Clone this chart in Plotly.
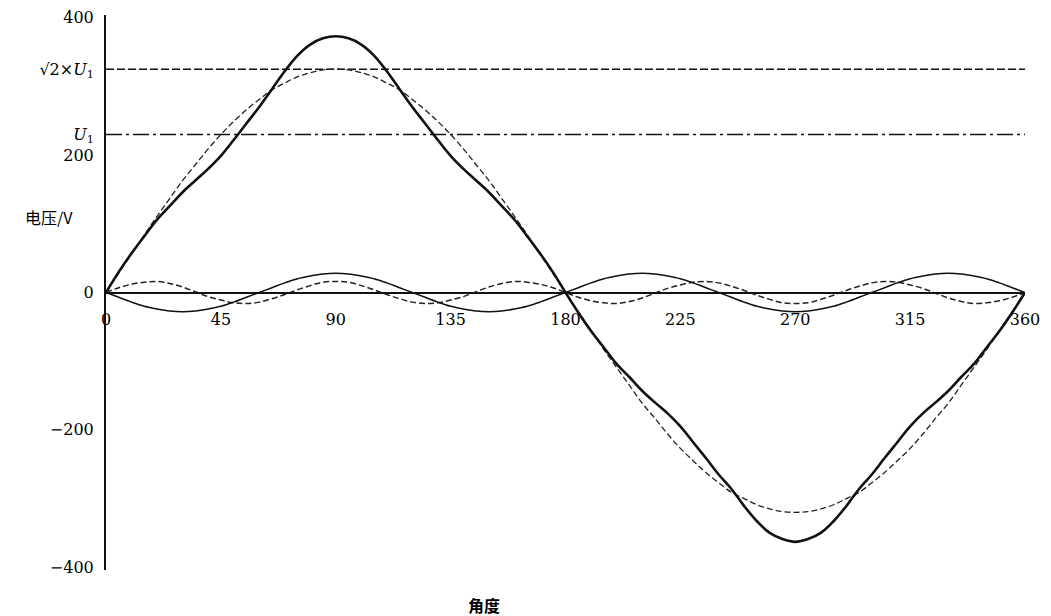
import plotly.graph_objects as go

# ---- data ----
angles = [0, 5, 10, 15, 20, 25, 30, 35, 40, 45, 50, 55, 60, 65, 70, 75, 80, 85, 90,
          95, 100, 105, 110, 115, 120, 125, 130, 135, 140, 145, 150, 155, 160, 165, 170, 175, 180,
          185, 190, 195, 200, 205, 210, 215, 220, 225, 230, 235, 240, 245, 250, 255, 260, 265, 270,
          275, 280, 285, 290, 295, 300, 305, 310, 315, 320, 325, 330, 335, 340, 345, 350, 355, 360]

# distorted total voltage (heavy solid)
total_v = [0, 30, 57, 82, 106, 126, 146, 163, 180, 199, 222, 246, 270, 296, 322, 345, 361, 370, 373,
           370, 361, 345, 322, 296, 270, 246, 222, 199, 180, 163, 146, 126, 106, 82, 57, 30, 0,
           -29, -56, -80, -104, -123, -143, -160, -176, -195, -218, -241, -265, -286, -311, -333, -350, -359, -363,
           -359, -350, -333, -311, -286, -265, -241, -218, -195, -176, -160, -143, -123, -104, -80, -56, -29, 0]

# fundamental (dashed)
fundamental_v = [0, 28, 56, 84, 111, 137, 163, 186, 209, 230, 249, 266, 281, 295, 305, 314, 320, 324, 325,
                 324, 320, 314, 305, 295, 281, 266, 249, 230, 209, 186, 163, 137, 111, 84, 56, 28, 0,
                 -28, -55, -83, -109, -135, -161, -183, -206, -227, -245, -262, -277, -291, -300, -309, -315, -319, -320,
                 -319, -315, -309, -300, -291, -277, -262, -245, -227, -206, -183, -161, -135, -109, -83, -55, -28, 0]

# third harmonic (thin solid)
third_v = [0, -7, -14, -20, -24, -27, -28, -27, -24, -20, -14, -7, 0, 7, 14, 20, 24, 27, 28,
           27, 24, 20, 14, 7, 0, -7, -14, -20, -24, -27, -28, -27, -24, -20, -14, -7, 0,
           7, 14, 20, 24, 27, 28, 27, 24, 20, 14, 7, 0, -7, -14, -20, -24, -27, -28,
           -27, -24, -20, -14, -7, 0, 7, 14, 20, 24, 27, 28, 27, 24, 20, 14, 7, 0]

# fifth harmonic (thin dashed)
fifth_v = [0, 7, 12, 15, 16, 13, 8, 1, -6, -11, -15, -16, -14, -9, -3, 4, 10, 15, 16,
           15, 10, 4, -3, -9, -14, -16, -15, -11, -6, 1, 8, 13, 16, 15, 12, 7, 0,
           -7, -12, -15, -16, -13, -8, -1, 6, 11, 15, 16, 14, 9, 3, -4, -10, -15, -16,
           -15, -10, -4, 3, 9, 14, 16, 15, 11, 6, -1, -8, -13, -16, -15, -12, -7, 0]

ref_x = [0, 361]
peak_level = 325    # sqrt(2) x U1
rms_level = 230     # U1

x_ticks = [0, 45, 90, 135, 180, 225, 270, 315, 360]
y_tickvals = [-400, -200, 0, 200, 230, 325, 400]
y_ticktext = ["−400", "−200", "0", "200", "<i>U</i><sub>1</sub>",
              "√2×<i>U</i><sub>1</sub>", "400"]

fig = go.Figure()

fig.add_trace(go.Scatter(x=ref_x, y=[peak_level, peak_level], mode="lines",
                         line=dict(color="#111", width=1.4, dash="8px,3px"),
                         cliponaxis=False, hoverinfo="skip"))
fig.add_trace(go.Scatter(x=ref_x, y=[rms_level, rms_level], mode="lines",
                         line=dict(color="#111", width=1.5, dash="16px,4px,3px,4px"),
                         cliponaxis=False, hoverinfo="skip"))
fig.add_trace(go.Scatter(x=angles, y=fundamental_v, mode="lines",
                         line=dict(color="#222", width=1.3, dash="6px,3px", shape="spline", smoothing=1)))
fig.add_trace(go.Scatter(x=angles, y=fifth_v, mode="lines",
                         line=dict(color="#222", width=1.5, dash="6px,3px", shape="spline", smoothing=1)))
fig.add_trace(go.Scatter(x=angles, y=third_v, mode="lines",
                         line=dict(color="#111", width=1.5, shape="spline", smoothing=1)))
fig.add_trace(go.Scatter(x=angles, y=total_v, mode="lines",
                         line=dict(color="#111", width=2.6, shape="spline", smoothing=1.1)))

tick_font = dict(family="DejaVu Serif", size=16, color="#000")

fig.update_layout(
    width=1051, height=616,
    margin=dict(l=106, r=26, t=15, b=46),
    paper_bgcolor="white", plot_bgcolor="white",
    showlegend=False, hovermode=False,
    xaxis=dict(range=[0, 360], tickvals=x_ticks, ticktext=[str(v) for v in x_ticks],
               showgrid=False, zeroline=False, showline=True, linecolor="#111", linewidth=1.6,
               anchor="free", position=0.5, ticks="", ticklabelstandoff=12,
               tickfont=tick_font, automargin=False),
    yaxis=dict(range=[-404, 404], tickvals=y_tickvals, ticktext=y_ticktext,
               showgrid=False, zeroline=False, showline=True, linecolor="#111", linewidth=2,
               ticks="", ticklabelstandoff=7, tickfont=tick_font, automargin=False),
    annotations=[
        dict(text="电压/V", xref="paper", yref="y", x=-0.062, y=110, showarrow=False,
             xanchor="center", yanchor="middle",
             font=dict(family="Noto Sans CJK SC", size=16, color="#000")),
        dict(text="<b>角度</b>", xref="x", yref="paper", x=148, y=0, yshift=-35, showarrow=False,
             xanchor="center", yanchor="middle",
             font=dict(family="Noto Sans CJK SC", size=16, color="#000")),
    ],
)

fig.write_html("out.html", config={"displayModeBar": False},
               post_script="document.body.style.margin='0';document.body.style.overflow='hidden';")
